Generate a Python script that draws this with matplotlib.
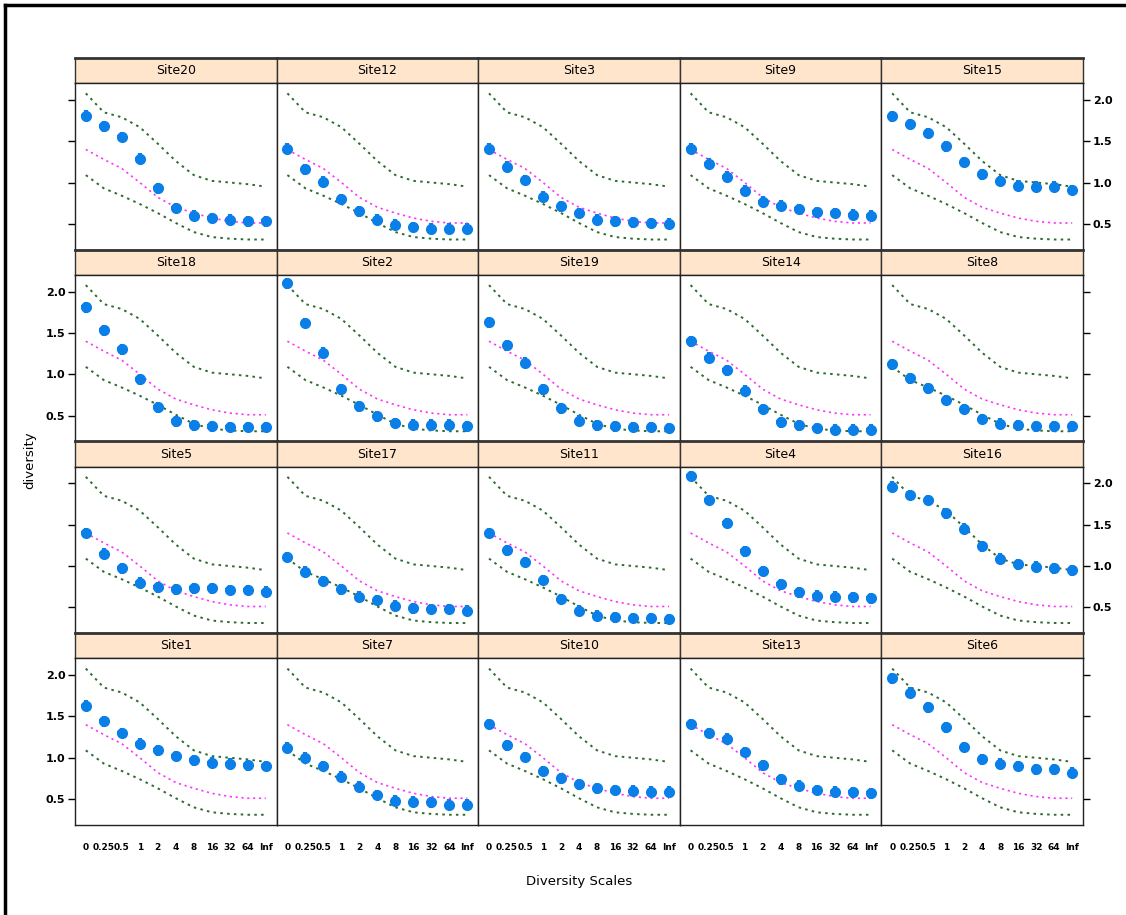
import numpy as np
import matplotlib
matplotlib.use("Agg")
import matplotlib.pyplot as plt
from matplotlib.lines import Line2D

plt.rcParams['font.family'] = ['Liberation Sans Narrow', 'DejaVu Sans']

#
# Data
#

scales = ["0", "0.25", "0.5", "1", "2", "4", "8", "16", "32", "64", "Inf"]

# null envelope shared by every panel
upper = [2.08, 1.85, 1.79, 1.67, 1.47, 1.26, 1.09, 1.02, 1.00, 0.98, 0.95]
mean = [1.40, 1.28, 1.17, 1.00, 0.82, 0.70, 0.63, 0.57, 0.53, 0.51, 0.51]
lower = [1.09, 0.93, 0.84, 0.74, 0.63, 0.51, 0.40, 0.34, 0.32, 0.31, 0.31]

# panel order, row by row from the top
sites = ["Site20", "Site12", "Site3", "Site9", "Site15",
         "Site18", "Site2", "Site19", "Site14", "Site8",
         "Site5", "Site17", "Site11", "Site4", "Site16",
         "Site1", "Site7", "Site10", "Site13", "Site6"]

site20 = [1.81, 1.68, 1.55, 1.29, 0.93, 0.69, 0.60, 0.57, 0.55, 0.53, 0.53]
site12 = [1.41, 1.16, 1.01, 0.80, 0.65, 0.55, 0.49, 0.46, 0.44, 0.44, 0.44]
site3 = [1.41, 1.19, 1.03, 0.83, 0.71, 0.63, 0.55, 0.53, 0.52, 0.51, 0.50]
site9 = [1.41, 1.23, 1.07, 0.90, 0.77, 0.72, 0.68, 0.64, 0.63, 0.61, 0.60]
site15 = [1.80, 1.71, 1.60, 1.44, 1.25, 1.10, 1.02, 0.96, 0.95, 0.95, 0.91]
site18 = [1.81, 1.53, 1.30, 0.94, 0.60, 0.43, 0.38, 0.37, 0.36, 0.36, 0.36]
site2 = [2.10, 1.62, 1.26, 0.82, 0.61, 0.49, 0.41, 0.39, 0.39, 0.39, 0.37]
site19 = [1.63, 1.35, 1.14, 0.82, 0.59, 0.44, 0.38, 0.37, 0.36, 0.36, 0.35]
site14 = [1.40, 1.20, 1.05, 0.80, 0.58, 0.42, 0.38, 0.35, 0.33, 0.33, 0.33]
site8 = [1.12, 0.95, 0.83, 0.69, 0.58, 0.46, 0.40, 0.38, 0.37, 0.37, 0.37]
site5 = [1.40, 1.15, 0.97, 0.80, 0.74, 0.72, 0.73, 0.73, 0.71, 0.71, 0.69]
site17 = [1.11, 0.93, 0.82, 0.72, 0.63, 0.59, 0.52, 0.49, 0.48, 0.48, 0.46]
site11 = [1.40, 1.19, 1.05, 0.83, 0.60, 0.46, 0.40, 0.38, 0.37, 0.37, 0.36]
site4 = [2.09, 1.80, 1.52, 1.18, 0.94, 0.78, 0.68, 0.64, 0.63, 0.62, 0.61]
site16 = [1.96, 1.86, 1.80, 1.64, 1.45, 1.24, 1.09, 1.02, 0.99, 0.97, 0.95]
site1 = [1.63, 1.44, 1.30, 1.17, 1.09, 1.02, 0.97, 0.94, 0.93, 0.91, 0.90]
site7 = [1.12, 1.00, 0.90, 0.77, 0.65, 0.55, 0.48, 0.47, 0.46, 0.43, 0.43]
site10 = [1.41, 1.15, 1.01, 0.84, 0.75, 0.68, 0.63, 0.61, 0.60, 0.59, 0.59]
site13 = [1.41, 1.30, 1.23, 1.07, 0.91, 0.74, 0.66, 0.61, 0.59, 0.58, 0.57]
site6 = [1.96, 1.79, 1.61, 1.37, 1.13, 0.98, 0.93, 0.90, 0.86, 0.86, 0.82]

values = [site20, site12, site3, site9, site15,
          site18, site2, site19, site14, site8,
          site5, site17, site11, site4, site16,
          site1, site7, site10, site13, site6]

yticks = [0.5, 1.0, 1.5, 2.0]

#
# Layout (pixel based, like the lattice output)
#

W, H = 1126, 915
fig = plt.figure(figsize=(W / 100, H / 100), dpi=100)

left, right, top = 75, 1083, 58
colw = (right - left) / 5.0
strip_h, panel_h = 25, 166.75
row_h = strip_h + panel_h

green = "#2f6a2f"
magenta = "#ff33ff"
blue = "#0a7fe8"
x = np.arange(1, len(scales) + 1)

for i, (name, vals) in enumerate(zip(sites, values)):
    r, c = divmod(i, 5)
    x0 = left + c * colw
    ytop = top + r * row_h

    # strip
    sax = fig.add_axes([x0 / W, 1 - (ytop + strip_h) / H, colw / W, strip_h / H])
    sax.set_facecolor("#ffe5cc")
    sax.set_xticks([])
    sax.set_yticks([])
    for sp in sax.spines.values():
        sp.set_color("#333333")
        sp.set_linewidth(1.0)
    sax.spines["top"].set_linewidth(2.0)
    sax.text(0.5, 0.5, name, ha="center", va="center", fontsize=9, transform=sax.transAxes)

    # panel
    ax = fig.add_axes([x0 / W, 1 - (ytop + strip_h + panel_h) / H, colw / W, panel_h / H])
    ax.plot(x, upper, color=green, lw=1.4, dashes=(1.3, 2.2), zorder=2)
    ax.plot(x, lower, color=green, lw=1.4, dashes=(1.3, 2.2), zorder=2)
    ax.plot(x, mean, color=magenta, lw=1.2, dashes=(1.3, 2.2), zorder=2)
    ax.errorbar(x, vals, yerr=0.065, xerr=0.24, fmt="o", ms=7, color=blue,
                elinewidth=3, capsize=0, zorder=3)
    ax.set_xlim(0.4, 11.6)
    ax.set_ylim(0.186, 2.205)
    for sp in ax.spines.values():
        sp.set_color("#222222")
        sp.set_linewidth(1.0)

    ax.set_xticks(x)
    if r == 3:
        ax.set_xticklabels(scales, fontsize=6.5, fontweight="bold")
        ax.tick_params(axis="x", length=0, pad=13)
    else:
        ax.set_xticklabels([])
        ax.tick_params(axis="x", length=0)

    ax.set_yticks(yticks)
    ax.yaxis.set_ticks_position("both")
    ax.tick_params(axis="y", direction="out", length=5, width=1, labelsize=8, pad=2)
    # lattice alternates y labels: right on rows 1 and 3, left on rows 2 and 4
    if c == 0 and r % 2 == 1:
        ax.tick_params(axis="y", labelleft=True, labelright=False)
    elif c == 4 and r % 2 == 0:
        ax.tick_params(axis="y", labelleft=False, labelright=True)
    else:
        ax.tick_params(axis="y", labelleft=False, labelright=False)
    if not (c == 0 or c == 4):
        ax.tick_params(axis="y", length=0)
    elif c == 0:
        ax.tick_params(axis="y", right=False)
    else:
        ax.tick_params(axis="y", left=False)
    for lab in ax.get_yticklabels():
        lab.set_fontweight("bold")

fig.text((left + right) / 2 / W, 1 - 882 / H, "Diversity Scales", ha="center", va="center", fontsize=9.5)
fig.text(30 / W, 1 - 460 / H, "diversity", ha="center", va="center", rotation=90, fontsize=9.5)

# outer frame of the original screenshot (left and top edges)
fig.add_artist(Line2D([5 / W, 5 / W], [0, 1 - 5 / H], color="black", lw=2.5, transform=fig.transFigure))
fig.add_artist(Line2D([5 / W, 1], [1 - 5 / H, 1 - 5 / H], color="black", lw=2.5, transform=fig.transFigure))

fig.savefig("out.png", dpi=100)
